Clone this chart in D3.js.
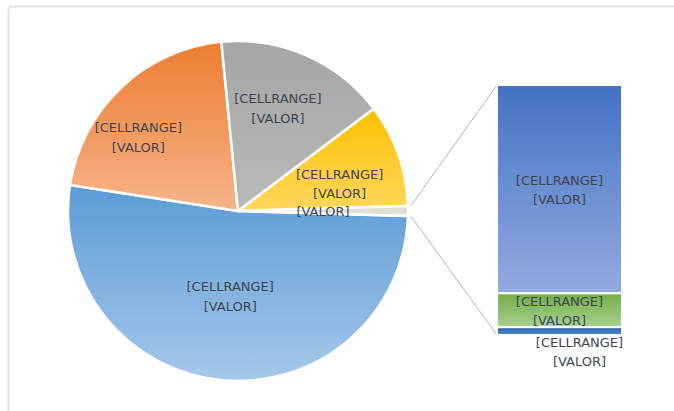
<!DOCTYPE html>
<html>
<head>
<meta charset="utf-8">
<script src="https://cdn.jsdelivr.net/npm/d3@7"></script>
<style>
body { margin: 0; background: #fff; }
text { font-family: "DejaVu Sans", sans-serif; font-size: 13px; fill: #3d4550; }
</style>
</head>
<body>
<div id="chart"></div>
<script>
// data
var pieValues = [52, 21, 16.3, 9.8];        // blue, orange, gray, yellow
var barValues = [0.8, 0.13, 0.03];         // split of the small "other" slice
var labelTop = "[CELLRANGE]",
    labelBottom = "[VALOR]";

// styles
var pieColors = [["#5b9bd5", "#a6c8ea"], ["#ed7d31", "#f6b48a"], ["#a5a5a5", "#bababa"], ["#ffc000", "#ffd75e"], ["#dedbd2", "#e6e4dc"]];
var barColors = [["#4472c4", "#92abe0"], ["#70ad47", "#a9d18e"], ["#2e68ad", "#4a86c8"]];
// label placement: [fraction of radius, angle tweak in degrees]
var pieLabelPos = [[0.5, 0], [0.73, -10], [0.65, -2.5], [0.62, 4], [0.5, 0]];
// bar label offsets [dx, dy]
var barLabelPos = [[0, 0], [0, 0], [20, 20]];

var width = 674, height = 411;
var cx = 238, cy = 211, R = 170;
var barX = 497, barW = 125, barTop = 85, barBottom = 335;

var svg = d3.select("#chart").append("svg")
    .attr("width", width)
    .attr("height", height);

// chart frame (only top and left edges fall inside the view)
svg.append("rect")
    .attr("x", 8.5).attr("y", 6.5)
    .attr("width", 700).attr("height", 430)
    .attr("rx", 4)
    .attr("fill", "#fff")
    .attr("stroke", "#e4e4e4")
    .attr("stroke-width", 2);

var defs = svg.append("defs");
function grad(id, c) {
    var g = defs.append("linearGradient").attr("id", id)
        .attr("x1", 0).attr("y1", 0).attr("x2", 0).attr("y2", 1);
    g.append("stop").attr("offset", "0%").attr("stop-color", c[0]);
    g.append("stop").attr("offset", "100%").attr("stop-color", c[1]);
}
pieColors.forEach(function(c, i) { grad("pg" + i, c); });
barColors.forEach(function(c, i) { grad("bg" + i, c); });

var otherTotal = d3.sum(barValues);
var pieData = pieValues.concat([otherTotal]);
var aOther = 2 * Math.PI * otherTotal / d3.sum(pieData);
var start = Math.PI / 2 + aOther / 2;

var pie = d3.pie().sort(null)
    .startAngle(start)
    .endAngle(start + 2 * Math.PI);
var arcs = pie(pieData);

var arc = d3.arc().innerRadius(0).outerRadius(R);

var g = svg.append("g").attr("transform", "translate(" + cx + "," + cy + ")");

g.selectAll("path")
    .data(arcs)
    .enter().append("path")
    .attr("d", arc)
    .attr("fill", function(d, i) { return "url(#pg" + i + ")"; })
    .attr("stroke", "#fff")
    .attr("stroke-width", 2.5)
    .attr("stroke-linejoin", "round");

function polar(r, a) {
    return [r * Math.sin(a), -r * Math.cos(a)];
}

// pie labels
arcs.forEach(function(d, i) {
    var p = pieLabelPos[i];
    var a = (d.startAngle + d.endAngle) / 2 + p[1] * Math.PI / 180;
    var pt = polar(R * p[0], a);
    var t = g.append("text")
        .attr("text-anchor", "middle")
        .attr("x", pt[0]).attr("y", pt[1]);
    if (i < pieValues.length) {
        t.append("tspan").attr("x", pt[0]).attr("dy", "-0.35em").text(labelTop);
        t.append("tspan").attr("x", pt[0]).attr("dy", "1.5em").text(labelBottom);
    } else {
        t.append("tspan").attr("x", pt[0]).attr("dy", "0.4em").text(labelBottom);
    }
});

// connector lines
var other = arcs[arcs.length - 1];
var p1 = polar(R + 3, other.startAngle),
    p2 = polar(R + 3, other.endAngle);
svg.append("line")
    .attr("x1", cx + p1[0]).attr("y1", cy + p1[1])
    .attr("x2", barX).attr("y2", barTop)
    .attr("stroke", "#b4b4b4").attr("stroke-width", 1);
svg.append("line")
    .attr("x1", cx + p2[0]).attr("y1", cy + p2[1])
    .attr("x2", barX).attr("y2", barBottom)
    .attr("stroke", "#b4b4b4").attr("stroke-width", 1);

// bar of the "other" slice, stacked from the top
var y = d3.scaleLinear().domain([0, otherTotal]).range([barBottom, barTop]);
var cum = 0;
var segs = barValues.map(function(v) {
    var s = { v: v, top: y(otherTotal - cum), bottom: y(otherTotal - cum - v) };
    cum += v;
    return s;
});

svg.selectAll(".seg")
    .data(segs)
    .enter().append("rect")
    .attr("class", "seg")
    .attr("x", barX)
    .attr("width", barW)
    .attr("y", function(d) { return d.top; })
    .attr("height", function(d) { return d.bottom - d.top; })
    .attr("fill", function(d, i) { return "url(#bg" + i + ")"; })
    .attr("stroke", "#fff")
    .attr("stroke-width", 2);

segs.forEach(function(d, i) {
    var lx = barX + barW / 2 + barLabelPos[i][0];
    var ly = (d.top + d.bottom) / 2 + barLabelPos[i][1];
    var t = svg.append("text").attr("text-anchor", "middle").attr("y", ly);
    t.append("tspan").attr("x", lx).attr("dy", "-0.35em").text(labelTop);
    t.append("tspan").attr("x", lx).attr("dy", "1.5em").text(labelBottom);
});
</script>
</body>
</html>
